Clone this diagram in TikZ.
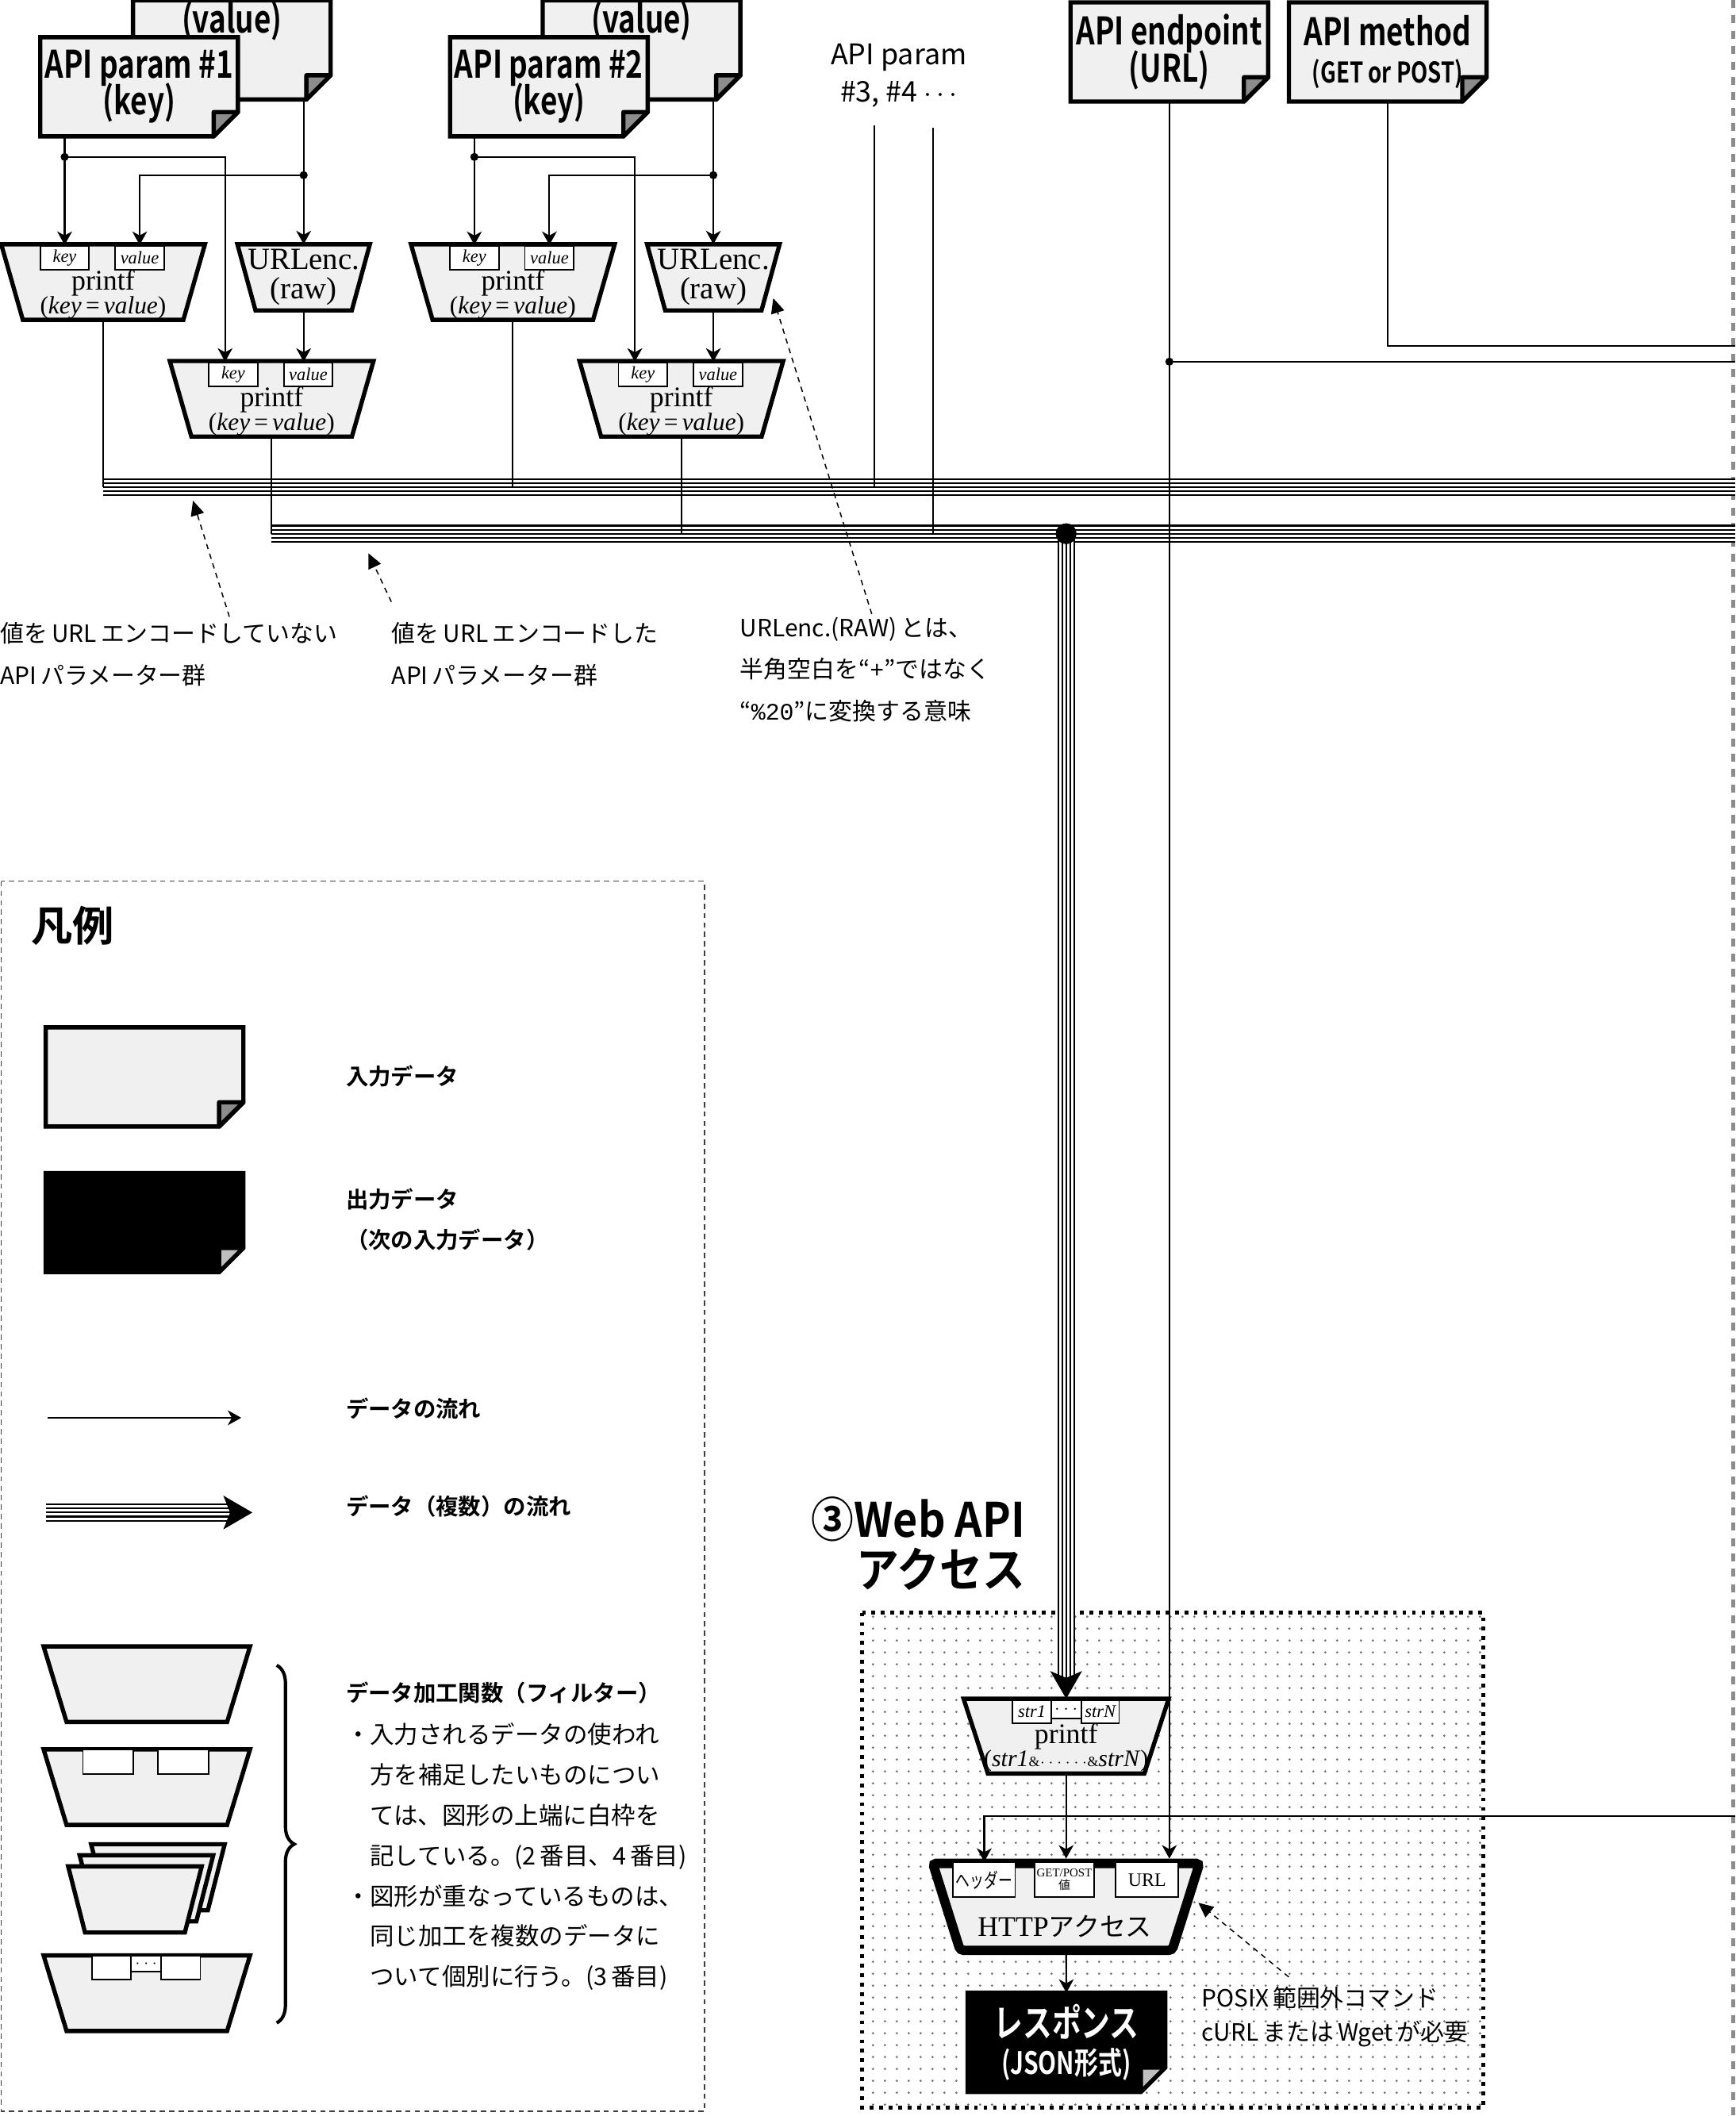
\documentclass[tikz,border=0pt]{standalone}
\usepackage{fontspec}
\setmainfont{Liberation Serif}
\setmonofont{Liberation Mono}
\newfontfamily\jp{Noto Sans CJK JP}
\newfontfamily\jpn{Noto Sans CJK JP}[FakeStretch=0.7]
\newfontfamily\jpb{Noto Sans CJK JP Bold}
\newfontfamily\hd{Noto Sans CJK JP Bold}[FakeStretch=0.77]
\newfontfamily\hdw{Noto Sans CJK JP Bold}[FakeStretch=0.9]
\usetikzlibrary{positioning,calc,arrows.meta,patterns.meta,decorations.pathreplacing}
\definecolor{docfill}{gray}{0.94}
\definecolor{foldgray}{gray}{0.55}
\definecolor{foldlight}{gray}{0.75}
\definecolor{dotgray}{gray}{0.45}
\definecolor{rimgray}{gray}{0.55}
\newcommand\tightlines{\lineskiplimit=-100pt\relax}
\newcommand\docbox[4]{%
  \node[dbox] (#1) at (#2) {};
  \filldraw[line width=1.8pt, fill=#3] (#1.north west) -- (#1.north east) -- ([yshift=0.36cm]#1.south east) -- ([xshift=-0.36cm]#1.south east) -- (#1.south west) -- cycle;
  \filldraw[line width=1.8pt, line join=round, fill=#4] ([xshift=-0.36cm]#1.south east) -- ([yshift=0.36cm]#1.south east) -- ([shift={(-0.36cm,0.36cm)}]#1.south east) -- cycle;}
\newcommand\trap[6][]{%
  \node[tbox, minimum width=#4, minimum height=#5] (#2) at (#3) {};
  \filldraw[filtline, #1] (#2.north west) -- (#2.north east) -- ([xshift=-#6]#2.south east) -- ([xshift=#6]#2.south west) -- cycle;}
\newcommand\kvfilt[3]{%
  \trap{#1}{#2,#3}{3.02cm}{1.12cm}{0.32cm}
  \node[tag, minimum width=0.726cm] (#1k) at ($(#1.center)+(-0.57cm,0.362cm)$) {key};
  \node[tag, minimum width=0.726cm] (#1v) at ($(#1.center)+(0.542cm,0.362cm)$) {value};
  \node[fname] (#1n) at ($(#1.center)+(0cm,-0.016cm)$) {printf};
  \node[fargs] (#1a) at ($(#1.center)+(0cm,-0.38cm)$) {(\textit{key}\,=\,\textit{value})};}

\begin{document}
\begin{tikzpicture}[x=0.02cm, y=-0.02cm,
  dbox/.style={rectangle, minimum width=2.93cm, minimum height=1.47cm, inner sep=0pt, outer sep=0pt},
  dtxt/.style={inner sep=0pt, align=center, font=\hd\fontsize{16}{15.5}\selectfont\tightlines},
  tbox/.style={rectangle, inner sep=0pt, outer sep=0pt},
  filtline/.style={line width=1.8pt, fill=docfill},
  utxt/.style={inner sep=0pt, align=center, font=\fontsize{13}{12.5}\selectfont\tightlines},
  tag/.style={draw, line width=0.6pt, fill=white, minimum height=0.354cm, inner sep=0pt,
    font=\fontsize{7.5}{7.5}\selectfont\itshape},
  htag/.style={draw, line width=0.6pt, fill=white, minimum height=0.516cm, inner sep=0pt},
  fname/.style={inner sep=0pt, font=\fontsize{12}{12}\selectfont},
  fargs/.style={inner sep=0pt, font=\fontsize{10.5}{10.5}\selectfont},
  flow/.style={line width=0.7pt},
  arr/.style={flow, -{Stealth[length=0.2cm, width=0.22cm, inset=0.06cm]}},
  note/.style={line width=0.5pt, dash pattern=on 0.08cm off 0.07cm, -{Triangle[length=0.22cm, width=0.2cm]}},
  jdot/.style={circle, fill, inner sep=0pt, minimum size=0.12cm},
  bigdot/.style={circle, fill, inner sep=0pt, minimum size=0.31cm},
  bundle/.style={line width=0.264cm, postaction={draw=white, line width=0.216cm},
    postaction={draw=black, line width=0.144cm}, postaction={draw=white, line width=0.096cm},
    postaction={draw=black, line width=0.024cm}},
  txt/.style={inner sep=0pt, align=left, font=\jp\fontsize{10}{17.6}\selectfont},
  ptxt/.style={inner sep=0pt, align=center, font=\jp\fontsize{12}{15.6}\selectfont},
  wtitle/.style={inner sep=0pt, align=right, font=\hdw\fontsize{20}{21}\selectfont\tightlines},
  ltitle/.style={inner sep=0pt, font=\jpb\fontsize{17.5}{17.5}\selectfont},
  lhead/.style={inner sep=0pt, align=left, font=\jpb\fontsize{9.5}{17.2}\selectfont},
  lbody/.style={inner sep=0pt, align=left, font=\jp\fontsize{10.2}{17}\selectfont},
  lbox/.style={line width=0.5pt, draw=black!75, dash pattern=on 0.08cm off 0.06cm},
  areaedge/.style={line width=1.6pt, dash pattern=on 1.6pt off 2.4pt},
  rimline/.style={draw=rimgray, line width=0.054cm, dash pattern=on 0.118cm off 0.11cm}]
\useasboundingbox (0,0) rectangle (1286,1568);
\coordinate (rim) at (1286,0);
\coordinate (rowK) at (0,116.3);
\coordinate (rowV) at (0,129.8);
\coordinate (rowM) at (0,256.6);
\coordinate (rowE) at (0,268);
\coordinate (rowU) at (0,361);
\coordinate (rowL) at (0,395.5);
\coordinate (rowH) at (0,1346);

\fill[pattern={Dots[distance=0.18cm, radius=0.55pt]}, pattern color=dotgray] (639,1195) rectangle (1099,1562);
\draw[areaedge] (639,1195) rectangle (1099,1562);
\draw[lbox] (1,653) rectangle (522,1564.5);
\draw[rimline] (1284.3,0) -- (1284.3,1568);

\docbox{vd1}{171.8,37}{docfill}{foldgray}
\node[dtxt] (vt1) at ([yshift=0.43cm]vd1.center) {(value)};
\docbox{kd1}{103.1,64.3}{docfill}{foldgray}
\node[dtxt] (kt1) at (kd1.center) {API param \#1\\(key)};
\docbox{vd2}{475.4,37}{docfill}{foldgray}
\node[dtxt] (vt2) at ([yshift=0.43cm]vd2.center) {(value)};
\docbox{kd2}{406.7,64.3}{docfill}{foldgray}
\node[dtxt] (kt2) at (kd2.center) {API param \#2\\(key)};

\kvfilt{pa1}{76.4}{209}
\kvfilt{pb1}{201.3}{295.5}
\kvfilt{pa2}{380}{209}
\kvfilt{pb2}{504.9}{295.5}
\trap{ue1}{225,205.5}{1.964cm}{0.98cm}{0.268cm}
\node[utxt] (ue1t) at (ue1.center) {URLenc.\\(raw)};
\trap{ue2}{528.6,205.5}{1.964cm}{0.98cm}{0.268cm}
\node[utxt] (ue2t) at (ue2.center) {URLenc.\\(raw)};

\docbox{ep}{866.5,38.5}{docfill}{foldgray}
\node[dtxt] (ept) at (ep.center) {API endpoint\\(URL)};
\docbox{me}{1028.3,38.5}{docfill}{foldgray}
\node[dtxt] (met) at (me.center) {API method\\{\fontsize{12}{12}\selectfont(GET or POST)}};
\node[ptxt] (apn) at (666,56) {API param\\\#3, \#4 $\cdots$};

\node[txt, anchor=north west] (n1) at (0,461) {値を\,URL\,エンコードしていない\\API\,パラメーター群};
\node[txt, anchor=north west] (n2) at (290,461) {値を\,URL\,エンコードした\\API\,パラメーター群};
\node[txt, anchor=north west] (n3) at (548,457) {URLenc.(RAW)\,とは、\\半角空白を“{\ttfamily +}”ではなく\\“{\ttfamily \%20}”に変換する意味};

\node[wtitle, anchor=east] (wt) at (760,1144) {③Web API\\アクセス};
\trap{pf3}{790,1286.5}{3.04cm}{1.108cm}{0.36cm}
\node[tag, minimum width=0.45cm, minimum height=0.276cm, font=\fontsize{7}{7}\selectfont] (pf3d) at ($(pf3.center)+(0cm,0.398cm)$) {$\cdots$};
\node[tag, minimum width=0.568cm, minimum height=0.346cm] (pf3a) at ($(pf3.center)+(-0.508cm,0.362cm)$) {str1};
\node[tag, minimum width=0.56cm, minimum height=0.346cm] (pf3b) at ($(pf3.center)+(0.506cm,0.362cm)$) {strN};
\node[fname] (pf3n) at ($(pf3.center)+(0cm,-0.01cm)$) {printf};
\node[fargs, font=\fontsize{10}{10}\selectfont] (pf3x) at ($(pf3.center)+(0cm,-0.36cm)$) {(\textit{str1}{\fontsize{6}{6}\selectfont\&$\cdots\cdots$\&}\textit{strN})};

\trap[line width=4pt, rounded corners=1.5pt]{http}{790,1413}{3.954cm}{1.29cm}{0.406cm}
\coordinate (htop) at ([yshift=2pt]http.north);
\node[htag, minimum width=0.92cm] (hh) at (729.3,1393) {\jpn\fontsize{8.5}{8.5}\selectfont ヘッダー};
\node[htag, minimum width=0.89cm, align=center, font=\fontsize{5}{5.5}\selectfont] (hg) at (788.7,1393) {GET/POST\\{\jp 値}};
\node[htag, minimum width=0.93cm, font=\fontsize{8}{8}\selectfont] (hu) at (850,1393) {URL};
\node[inner sep=0pt] (ht) at (789,1427.3) {\fontsize{12}{12}\selectfont HTTP{\jp\fontsize{11}{11}\selectfont アクセス}};
\docbox{resp}{790.2,1513.4}{black}{foldlight}
\node[dtxt, text=white] (respt) at (resp.center) {レスポンス\\{\fontsize{13}{13}\selectfont(JSON形式)}};
\node[txt, anchor=north west, font=\jp\fontsize{10}{14.2}\selectfont] (px) at (890,1472) {POSIX\,範囲外コマンド\\cURL\,または\,Wget\,が必要};

\node[jdot] (jk1) at (pa1k |- rowK) {};
\node[jdot] (jv1) at (ue1 |- rowV) {};
\draw[arr] (kd1.south -| jk1) -- (pa1k.north);
\draw[arr] (jk1.center) -| ([xshift=-0.12cm]pb1k.north);
\draw[arr] (vd1.south -| jv1) -- (ue1.north);
\draw[arr] (jv1.center) -| (pa1v.north);
\draw[arr] (ue1.south) -- (ue1.south |- pb1v.north);
\node[jdot] (jk2) at (pa2k |- rowK) {};
\node[jdot] (jv2) at (ue2 |- rowV) {};
\draw[arr] (kd2.south -| jk2) -- (pa2k.north);
\draw[arr] (jk2.center) -| ([xshift=-0.12cm]pb2k.north);
\draw[arr] (vd2.south -| jv2) -- (ue2.north);
\draw[arr] (jv2.center) -| (pa2v.north);
\draw[arr] (ue2.south) -- (ue2.south |- pb2v.north);

\draw[bundle] (pa1.south |- rowU) -- (rim |- rowU);
\draw[bundle] (pb1.south |- rowL) -- (rim |- rowL);
\draw[flow] (pa1.south) -- (pa1.south |- rowU);
\draw[flow] (pb1.south) -- (pb1.south |- rowL);
\draw[flow] (pa2.south) -- (pa2.south |- rowU);
\draw[flow] (pb2.south) -- (pb2.south |- rowL);
\coordinate (p3) at ([xshift=-0.36cm, yshift=-0.26cm]apn.south);
\coordinate (p4) at ([xshift=0.51cm, yshift=-0.3cm]apn.south);
\draw[flow] (p3) -- (p3 |- rowU);
\draw[flow] (p4) -- (p4 |- rowL);

\draw[bundle] (pf3 |- rowL) -- ([yshift=0.3cm]pf3.north);
\draw[line width=0.5pt, -{Stealth[length=0.41cm, width=0.47cm, inset=0.1cm]}] ([yshift=0.42cm]pf3.north) -- (pf3.north);
\node[bigdot] (jw) at (pf3 |- rowL) {};

\node[jdot] (je) at (ep.south |- rowE) {};
\draw[flow] (je.center) -- (rim |- rowE);
\draw[arr] (ep.south) -- (ep.south |- htop);
\draw[flow] (me.south) |- (rim |- rowM);
\draw[arr] (rim |- rowH) -| (hh.north);
\draw[arr] (pf3.south) -- (pf3.south |- htop);
\draw[arr] ([yshift=-2pt]http.south) -- (resp.north);

\coordinate (t1) at (143,371);
\coordinate (t2) at (273,410);
\coordinate (t3) at (573,221);
\coordinate (t4) at (888,1410);
\draw[note] ([xshift=3.4cm, yshift=0.08cm]n1.north west) -- (t1);
\draw[note] ([yshift=0.3cm]n2.north west) -- (t2);
\draw[note] ([xshift=1.96cm, yshift=0.04cm]n3.north west) -- (t3);
\draw[note] ([xshift=1.3cm, yshift=0.14cm]px.north west) -- (t4);

\node[ltitle] (lg) at (54,686) {凡例};
\docbox{ld1}{107.1,798}{docfill}{foldgray}
\docbox{ld2}{107.1,906}{black}{foldlight}
\node[lhead, anchor=west] (li) at (256,797.4) {入力データ};
\node[lhead, anchor=north west] (lo) at (256,880) {出力データ\\（次の入力データ）};
\coordinate (lfa) at (35.4,1050.6);
\coordinate (lfb) at (178.8,1050.6);
\draw[arr] (lfa) -- (lfb);
\node[lhead, anchor=west] (lf) at (256,1044) {データの流れ};
\coordinate (lma) at (34,1120.8);
\coordinate (lmb) at (187,1120.8);
\draw[bundle] (lma) -- ([xshift=-0.3cm]lmb);
\draw[line width=0.5pt, -{Stealth[length=0.43cm, width=0.5cm, inset=0.1cm]}] ([xshift=-0.5cm]lmb) -- (lmb);
\node[lhead, anchor=west] (lm) at (256,1116.4) {データ（複数）の流れ};

\trap{lt1}{108.8,1248}{3.06cm}{1.12cm}{0.34cm}
\trap{lt2}{108.8,1324.3}{3.06cm}{1.12cm}{0.34cm}
\node[tag, minimum width=0.752cm, minimum height=0.36cm] (lt2a) at (80.2,1305.6) {};
\node[tag, minimum width=0.752cm, minimum height=0.36cm] (lt2b) at (135.8,1305.6) {};
\trap{lt3c}{117,1391.1}{1.98cm}{0.98cm}{0.25cm}
\trap{lt3b}{108.5,1399.3}{1.98cm}{0.98cm}{0.25cm}
\trap{lt3a}{100,1407.5}{1.98cm}{0.98cm}{0.25cm}
\trap{lt4}{108.8,1477}{3.06cm}{1.12cm}{0.34cm}
\node[tag, minimum width=0.45cm, minimum height=0.24cm, font=\fontsize{6}{6}\selectfont] (lt4d) at (108.3,1455) {$\cdots$};
\node[tag, minimum width=0.58cm, minimum height=0.36cm] (lt4a) at (82.5,1458) {};
\node[tag, minimum width=0.58cm, minimum height=0.36cm] (lt4b) at (134,1458) {};
\draw[line width=1.4pt, decorate, decoration={brace, amplitude=0.26cm}] (205,1234) -- (205,1499);
\node[lhead, anchor=west] (lk) at (256,1254.5) {データ加工関数（フィルター）};
\node[lbody, anchor=north west] (lb) at (256,1276.6) {・入力されるデータの使われ\\\hphantom{・}方を補足したいものについ\\\hphantom{・}ては、図形の上端に白枠を\\\hphantom{・}記している。(2\,番目、4\,番目)\\・図形が重なっているものは、\\\hphantom{・}同じ加工を複数のデータに\\\hphantom{・}ついて個別に行う。(3\,番目)};
\end{tikzpicture}
\end{document}
